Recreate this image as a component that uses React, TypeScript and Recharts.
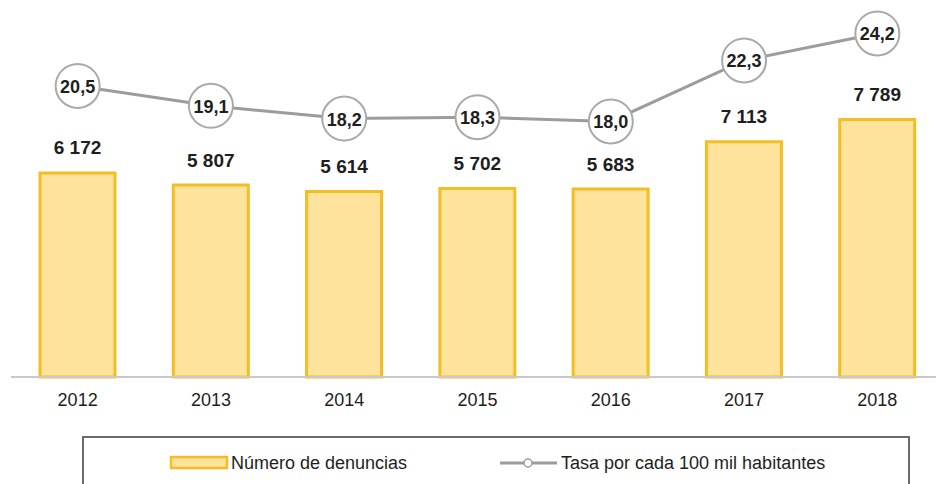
import { Bar, ComposedChart, LabelList, Line, XAxis, YAxis } from 'recharts';

const years = ['2012', '2013', '2014', '2015', '2016', '2017', '2018'];
const denuncias = [6172, 5807, 5614, 5702, 5683, 7113, 7789];
const tasa = [20.5, 19.1, 18.2, 18.3, 18.0, 22.3, 24.2];

const data = years.map((year, i) => ({ year, denuncias: denuncias[i], tasa: tasa[i] }));

const FONT = '"Liberation Sans", Arial, sans-serif';
const BAR_FILL = '#fde39c';
const BAR_STROKE = '#f3be22';
const LINE_GRAY = '#9c9c9c';
const TEXT = '#1e1e1e';

const fmtThousands = (v: number) => String(v).replace(/\B(?=(\d{3})+(?!\d))/g, ' ');
const fmtComma = (v: number) => v.toFixed(1).replace('.', ',');

function BarValue(props: any) {
  const { x, y, width, value } = props;
  return (
    <text
      x={x + width / 2}
      y={y - 25}
      textAnchor="middle"
      dominantBaseline="central"
      fontFamily={FONT}
      fontWeight="bold"
      fontSize={19}
      fill={TEXT}
    >
      {fmtThousands(value)}
    </text>
  );
}

function RateDot(props: any) {
  const { cx, cy, index } = props;
  return <circle key={index} cx={cx} cy={cy} r={22} fill="#fff" stroke="#a9a9a9" strokeWidth={2} />;
}

function RateValue(props: any) {
  const { x, y, value } = props;
  return (
    <text
      x={x}
      y={y + 1}
      textAnchor="middle"
      dominantBaseline="central"
      fontFamily={FONT}
      fontWeight="bold"
      fontSize={18}
      fill={TEXT}
    >
      {fmtComma(value)}
    </text>
  );
}

export default function App() {
  return (
    <div
      style={{
        position: 'absolute',
        left: 0,
        top: 0,
        width: 936,
        height: 484,
        overflow: 'hidden',
        background: '#fff',
        fontFamily: FONT,
      }}
    >
      <ComposedChart
        width={944}
        height={484}
        data={data}
        margin={{ top: 10, right: 0, bottom: 77, left: 11 }}
        barCategoryGap={0}
      >
        <XAxis
          dataKey="year"
          axisLine={{ stroke: '#c9c9c9', strokeWidth: 2 }}
          tickLine={false}
          tickSize={0}
          tickMargin={16}
          tick={{ fontSize: 18, fill: TEXT, fontFamily: FONT }}
        />
        <YAxis yAxisId="left" hide domain={[0, 11100]} />
        <YAxis yAxisId="right" orientation="right" hide domain={[0, 25.85]} />
        <Bar
          yAxisId="left"
          dataKey="denuncias"
          barSize={75}
          fill={BAR_FILL}
          stroke={BAR_STROKE}
          strokeWidth={3}
          isAnimationActive={false}
        >
          <LabelList dataKey="denuncias" content={<BarValue />} />
        </Bar>
        <Line
          yAxisId="right"
          dataKey="tasa"
          type="linear"
          stroke={LINE_GRAY}
          strokeWidth={3}
          dot={<RateDot />}
          activeDot={false}
          isAnimationActive={false}
        >
          <LabelList dataKey="tasa" content={<RateValue />} />
        </Line>
      </ComposedChart>

      <div
        style={{
          position: 'absolute',
          left: 82,
          top: 436,
          width: 828,
          height: 70,
          border: '2px solid #6a6a6a',
          boxSizing: 'border-box',
        }}
      />
      <svg style={{ position: 'absolute', left: 0, top: 440 }} width={936} height={44}>
        <rect x={171} y={17} width={56} height={11} fill={BAR_FILL} stroke={BAR_STROKE} strokeWidth={2.5} />
        <text x={231} y={23} dominantBaseline="central" fontFamily={FONT} fontSize={18} fill={TEXT}>
          Número de denuncias
        </text>
        <line x1={500} y1={23} x2={557} y2={23} stroke={LINE_GRAY} strokeWidth={3} />
        <circle cx={528} cy={23} r={4} fill="#fff" stroke={LINE_GRAY} strokeWidth={1.5} />
        <text x={561} y={23} dominantBaseline="central" fontFamily={FONT} fontSize={18} fill={TEXT}>
          Tasa por cada 100 mil habitantes
        </text>
      </svg>
    </div>
  );
}
